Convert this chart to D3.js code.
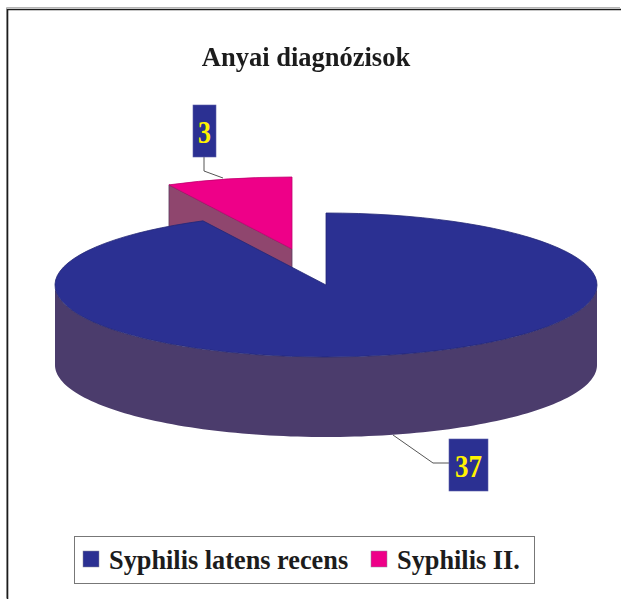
<!DOCTYPE html>
<html><head><meta charset="utf-8">
<style>html,body{margin:0;padding:0;background:#fff}svg{display:block;filter:blur(0.4px)}text{font-family:"Liberation Serif",serif;font-weight:bold}</style>
<script src="https://cdn.jsdelivr.net/npm/d3@7/dist/d3.min.js"></script>
</head><body><svg id="c" width="621" height="599"></svg>
<script>
const categories = ["Syphilis latens recens", "Syphilis II."];
const values = [37, 3];
const title = "Anyai diagnózisok";
const topColors = ["#2b3092", "#ee0088"];
const sideColors = ["#4b3c6c", "#8f466e"];

const svg = d3.select("#c");
const W = 621, H = 599;
const cx = 326, cy = 285, rx = 271, ry = 72, depth = 80;
const explode = [[0, 0], [-34, -36]];

// frame (top and left edges only are visible)
svg.append("path").attr("d", `M7.5,${H}V8.5H${W}`).attr("fill", "none").attr("stroke", "#b5b5b5").attr("stroke-width", 1).attr("transform", "translate(-1,-1)");
svg.append("path").attr("d", `M7.5,${H}V9.5H${W}`).attr("fill", "none").attr("stroke", "#1c1c1c").attr("stroke-width", 1.6);

svg.append("text").attr("x", 306).attr("y", 66).attr("text-anchor", "middle").attr("font-size", 26.5).attr("fill", "#1c1c1c").text(title);

const pie = d3.pie().sort(null).startAngle(0).endAngle(2 * Math.PI);
const arcs = pie(values);
const arcGen = d3.arc().innerRadius(0).outerRadius(rx);
const px = a => rx * Math.sin(a), py = a => -ry * Math.cos(a);
const wall = (a0, a1) => {
  const pts = d3.range(0, 121).map(i => a0 + (a1 - a0) * i / 120);
  const up = pts.map(a => [px(a), py(a)]);
  const dn = pts.slice().reverse().map(a => [px(a), py(a) + depth]);
  return d3.line()(up.concat(dn)) + "Z";
};

function drawSlice(i) {
  const d = arcs[i];
  const g = svg.append("g").attr("transform", `translate(${cx + explode[i][0]},${cy + explode[i][1]})`);
  const a0 = Math.max(d.startAngle, Math.PI / 2), a1 = Math.min(d.endAngle, 1.5 * Math.PI);
  if (a1 > a0) g.append("path").attr("d", wall(a0, a1)).attr("fill", sideColors[i]);
  if (i === 1) {
    // cut face toward the viewer, running from the outer edge to the centre
    const a = d.startAngle;
    g.append("path").attr("d", d3.line()([[px(a), py(a)], [0, 0], [0, depth], [px(a), py(a) + depth]]) + "Z")
      .attr("fill", sideColors[i]).attr("stroke", "#5a3a5e").attr("stroke-width", 0.8);
  }
  g.append("path").attr("d", arcGen(d)).attr("transform", `scale(1,${ry / rx})`)
    .attr("fill", topColors[i]).attr("stroke", d3.color(topColors[i]).darker(0.6)).attr("stroke-width", 0.8)
    .attr("vector-effect", "non-scaling-stroke");
}
drawSlice(1);
drawSlice(0);

// callouts
const callouts = [
  {i: 1, box: [193, 105, 23, 52], tw: 13, line: [[204, 157], [204, 171], [223, 178]]},
  {i: 0, box: [449, 439, 39, 52], tw: 27, line: [[393, 435], [433, 463], [449, 463]]}
];
callouts.forEach(c => {
  svg.append("path").attr("d", d3.line()(c.line)).attr("fill", "none").attr("stroke", "#555").attr("stroke-width", 1);
  svg.append("rect").attr("x", c.box[0]).attr("y", c.box[1]).attr("width", c.box[2]).attr("height", c.box[3]).attr("fill", topColors[0]).attr("stroke", "#5a5fa8").attr("stroke-width", 0.6);
  svg.append("text").attr("x", c.box[0] + c.box[2] / 2).attr("y", c.box[1] + 37.5).attr("text-anchor", "middle")
    .attr("font-size", 32).attr("fill", "#fff200")
    .attr("textLength", c.tw).attr("lengthAdjust", "spacingAndGlyphs").text(values[c.i]);
});

// legend
svg.append("rect").attr("x", 74.5).attr("y", 536.5).attr("width", 460).attr("height", 47).attr("fill", "#fff").attr("stroke", "#777").attr("stroke-width", 1);
const lx = [83, 371], tx = [109, 397];
categories.forEach((c, i) => {
  svg.append("rect").attr("x", lx[i]).attr("y", 551).attr("width", 16).attr("height", 16).attr("fill", topColors[i]).attr("stroke", "#8a8a9a").attr("stroke-width", 0.5);
  svg.append("text").attr("x", tx[i]).attr("y", 569).attr("font-size", 26.3).attr("fill", "#1c1c1c").text(c);
});
</script></body></html>
